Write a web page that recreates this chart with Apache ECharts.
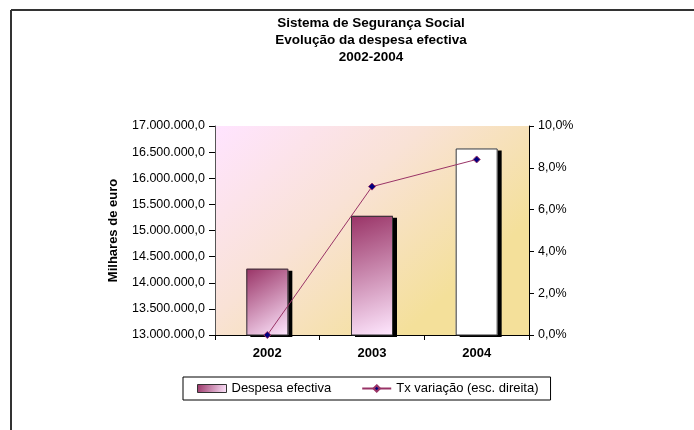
<!DOCTYPE html>
<html>
<head>
<meta charset="utf-8">
<script src="https://cdn.jsdelivr.net/npm/echarts@6/dist/echarts.min.js"></script>
<style>
html,body{margin:0;padding:0;background:#fff;}
#chart{width:694px;height:430px;}
</style>
</head>
<body>
<div id="chart"></div>
<script>
const years = ['2002', '2003', '2004'];
const despesa = [14270000, 15280000, 16570000];
const txVariacao = [0.0, 7.1, 8.4];
const titleLines = ['Sistema de Segurança Social', 'Evolução da despesa efectiva', '2002-2004'];
const leftAxisName = 'Milhares de euro';
const seriesNames = ['Despesa efectiva', 'Tx variação (esc. direita)'];

const FONT = '"Liberation Sans", Arial, sans-serif';

function fmtEuro(v) {
  const s = Math.round(v).toString().replace(/\B(?=(\d{3})+(?!\d))/g, '.');
  return s + ',0';
}
function fmtPct(v) {
  return v.toFixed(1).replace('.', ',') + '%';
}

const barGrad = {
  type: 'linear', x: 0, y: 0, x2: 1, y2: 1,
  colorStops: [{ offset: 0, color: '#993366' }, { offset: 1, color: '#FFE8FF' }]
};
const plotGrad = {
  type: 'linear', x: 0, y: 0, x2: 0.6, y2: 1,
  colorStops: [
    { offset: 0, color: '#FFE4FF' },
    { offset: 0.5, color: '#F9E2D6' },
    { offset: 1, color: '#F4E09A' }
  ]
};

const barData = despesa.map((v, i) => i === despesa.length - 1
  ? { value: v, itemStyle: { color: '#FFFFFF' } }
  : v);

const chart = echarts.init(document.getElementById('chart'), null, { renderer: 'canvas' });
chart.setOption({
  animation: false,
  backgroundColor: '#FFFFFF',
  textStyle: { fontFamily: FONT },
  graphic: [
    { type: 'line', shape: { x1: 11, y1: 10, x2: 694, y2: 10 }, style: { stroke: '#333', lineWidth: 2 } },
    { type: 'line', shape: { x1: 11, y1: 10, x2: 11, y2: 430 }, style: { stroke: '#333', lineWidth: 2 } },
    {
      type: 'text', x: 371, y: 15,
      style: {
        text: titleLines.join('\n'), x: 0, y: 0,
        align: 'center', textAlign: 'center',
        font: 'bold 13.5px ' + FONT, lineHeight: 17, fill: '#000'
      }
    }
  ],
  grid: {
    left: 215, right: 165, top: 126, bottom: 95,
    show: true, backgroundColor: plotGrad, borderWidth: 0
  },
  legend: {
    left: 183, top: 377,
    padding: [5, 12, 5, 14],
    borderColor: '#000', borderWidth: 1,
    itemGap: 30, itemWidth: 29, itemHeight: 8,
    textStyle: { fontFamily: FONT, fontSize: 13, color: '#000' },
    data: [
      { name: seriesNames[0], icon: 'rect', itemStyle: { borderColor: '#333', borderWidth: 1 } },
      { name: seriesNames[1] }
    ]
  },
  xAxis: {
    type: 'category', data: years,
    axisLine: { lineStyle: { color: '#000', width: 1 } },
    axisTick: { show: true, length: 5, lineStyle: { color: '#000' } },
    axisLabel: { fontFamily: FONT, fontWeight: 'bold', fontSize: 13, color: '#000', margin: 12 },
    splitLine: { show: false }
  },
  yAxis: [
    {
      type: 'value', min: 13000000, max: 17000000, interval: 500000,
      name: leftAxisName, nameLocation: 'middle', nameGap: 95,
      nameTextStyle: { fontFamily: FONT, fontWeight: 'bold', fontSize: 13, color: '#000' },
      axisLine: { show: true, lineStyle: { color: '#555', width: 1 } },
      axisTick: { show: true, length: 6, lineStyle: { color: '#000' } },
      axisLabel: { fontFamily: FONT, fontSize: 12.5, color: '#000', margin: 10, formatter: fmtEuro },
      splitLine: { show: false }
    },
    {
      type: 'value', min: 0, max: 10, interval: 2, position: 'right',
      axisLine: { show: true, lineStyle: { color: '#000', width: 1 } },
      axisTick: { show: true, length: 5, lineStyle: { color: '#000' } },
      axisLabel: { fontFamily: FONT, fontSize: 12.5, color: '#000', margin: 9, formatter: fmtPct },
      splitLine: { show: false }
    }
  ],
  series: [
    {
      name: seriesNames[0], type: 'bar', yAxisIndex: 0,
      barWidth: 42, data: barData,
      itemStyle: {
        color: barGrad, borderWidth: 0,
        shadowColor: '#000', shadowOffsetX: 4, shadowOffsetY: 2, shadowBlur: 0
      },
      z: 2
    },
    {
      name: 'outline', type: 'bar', yAxisIndex: 0,
      barWidth: 42, barGap: '-100%', data: despesa,
      itemStyle: { color: 'rgba(0,0,0,0)', borderColor: '#333', borderWidth: 1 },
      silent: true, z: 3
    },
    {
      name: seriesNames[1], type: 'line', yAxisIndex: 1,
      data: txVariacao, symbol: 'diamond', symbolSize: 7, showSymbol: true,
      lineStyle: { color: '#993366', width: 1 },
      itemStyle: { color: '#000080', borderColor: '#993366', borderWidth: 1 },
      z: 5
    }
  ]
});
</script>
</body>
</html>
